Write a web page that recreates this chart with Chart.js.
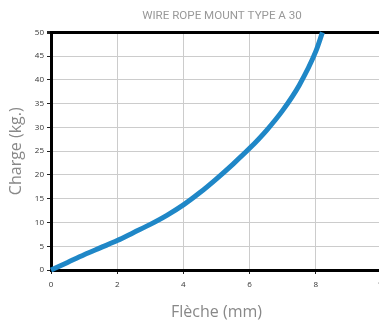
<!DOCTYPE html>
<html>
<head>
<meta charset="utf-8">
<script src="https://cdn.jsdelivr.net/npm/chart.js@4"></script>
<style>
  html, body { margin: 0; padding: 0; background: #fff; overflow: hidden; }
  #wrap { position: relative; width: 444px; height: 322px; }
</style>
</head>
<body>
<div id="wrap"><canvas id="chart"></canvas></div>
<script>
// deflection (mm) vs load (kg)
var fleche = [0, 0.5, 1, 1.5, 2, 2.5, 3, 3.5, 4, 4.5, 5, 5.5, 6, 6.5, 7, 7.5, 8, 8.2];
var charge = [0, 1.6, 3.2, 4.7, 6.2, 7.9, 9.6, 11.5, 13.7, 16.3, 19.2, 22.3, 25.6, 29.3, 33.6, 38.9, 46, 50];

var xTicks = [0, 2, 4, 6, 8, 10];
var yMax = 50;

var points = [];
fleche.forEach(function (f, i) {
    points.push({x: f, y: charge[i]});
});

var ctx = document.getElementById("chart").getContext("2d");

new Chart(ctx, {
    type: 'line',
    data: {
        datasets: [{
            label: "A 30",
            data: points,
            borderColor: "#1f87c7",
            borderWidth: 5,
            pointRadius: 0,
            cubicInterpolationMode: 'monotone',
            clip: 6
        }]
    },
    options: {
        responsive: true,
        maintainAspectRatio: false,
        animation: false,
        layout: { padding: 0 },
        scales: {
            x: {
                type: 'linear',
                min: 0,
                max: 10,
                afterBuildTicks: function (s) { s.ticks = xTicks.map(function (v) { return {value: v}; }); },
                afterFit: function (s) { s.height = 52; },
                border: { color: "#000", width: 3 },
                grid: { color: "#cccccc", lineWidth: 1, tickLength: 4, tickColor: "#222" },
                ticks: { color: "#333", font: { family: "Open Sans", size: 8 }, padding: 6, maxRotation: 0, autoSkip: false },
                title: {
                    display: true,
                    text: "Flèche (mm)",
                    color: "#888",
                    font: { family: "Open Sans", size: 16 },
                    padding: { top: 6, bottom: 0 }
                }
            },
            y: {
                min: 0,
                max: yMax,
                ticks: { stepSize: 5, color: "#333", font: { family: "Open Sans", size: 8 }, padding: 3 },
                afterFit: function (s) { s.width = 51; },
                border: { color: "#000", width: 3 },
                grid: {
                    color: function (c) { return c.tick && c.tick.value === yMax ? "#000" : "#cccccc"; },
                    lineWidth: function (c) { return c.tick && c.tick.value === yMax ? 3 : 1; },
                    tickLength: 4,
                    tickColor: "#222"
                },
                title: {
                    display: true,
                    text: "Charge (kg.)",
                    color: "#888",
                    font: { family: "Open Sans", size: 16 },
                    padding: { top: 7, bottom: 4 }
                }
            },
            // empty right-hand spacer, keeps the title centred over the plot
            yRight: {
                position: 'right',
                min: 0,
                max: yMax,
                afterFit: function (s) { s.width = 62; },
                ticks: { display: false },
                grid: { display: false, drawTicks: false },
                border: { display: false }
            }
        },
        plugins: {
            legend: { display: false },
            tooltip: { enabled: false },
            title: {
                display: true,
                text: "WIRE ROPE MOUNT TYPE A 30",
                color: "#999",
                font: { family: "Liberation Sans Narrow, Roboto", size: 11.6, weight: 'normal' },
                padding: { top: 9, bottom: 9.5 }
            }
        }
    }
});
</script>
</body>
</html>
